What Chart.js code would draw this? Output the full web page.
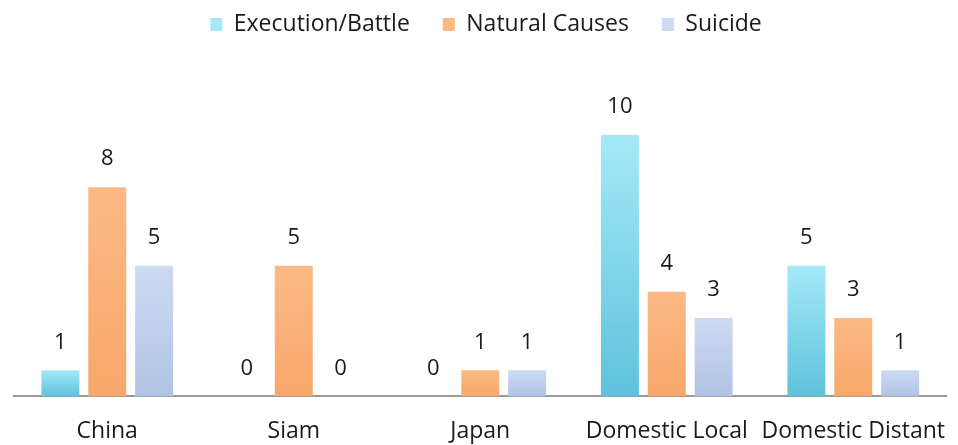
<!DOCTYPE html>
<html>
<head>
<meta charset="utf-8">
<script src="https://cdn.jsdelivr.net/npm/chart.js@4"></script>
<style>
  html, body { margin: 0; padding: 0; background: #fff; }
  #wrap { width: 958px; height: 445px; }
</style>
</head>
<body>
<div id="wrap"><canvas id="myChart"></canvas></div>
<script>
// chart data
const categories = ['China', 'Siam', 'Japan', 'Domestic Local', 'Domestic Distant'];
const executionBattle = [1, 0, 0, 10, 5];
const naturalCauses = [8, 5, 1, 4, 3];
const suicide = [5, 0, 1, 3, 1];

const fontFam = "'Open Sans', sans-serif";

// vertical gradient on each bar (light at the top)
function grad(top, bottom) {
    return function (ctx) {
        const chart = ctx.chart;
        if (!chart.chartArea || ctx.type !== 'data') return bottom;
        const ys = chart.scales.y;
        const y0 = ys.getPixelForValue(0);
        let y1 = ys.getPixelForValue(ctx.raw);
        if (y1 >= y0) y1 = y0 - 1;
        const g = chart.ctx.createLinearGradient(0, y1, 0, y0);
        g.addColorStop(0, top);
        g.addColorStop(1, bottom);
        return g;
    };
}

// draw the value over each bar
const valueLabels = {
    id: 'valueLabels',
    afterDatasetsDraw(chart) {
        const c = chart.ctx;
        c.save();
        c.font = "22px " + fontFam;
        c.fillStyle = '#1a1a1a';
        c.textAlign = 'center';
        c.textBaseline = 'middle';
        chart.data.datasets.forEach((ds, i) => {
            chart.getDatasetMeta(i).data.forEach((bar, j) => {
                c.fillText(ds.data[j], bar.x, bar.y - 28);
            });
        });
        c.restore();
    }
};

var mychart = document.getElementById('myChart').getContext('2d');
var chart = new Chart(mychart, {
    type: 'bar',
    data: {
        labels: categories,
        datasets: [
            {
                label: 'Execution/Battle',
                data: executionBattle,
                backgroundColor: grad('#a4e9f8', '#5fc2dc')
            },
            {
                label: 'Natural Causes',
                data: naturalCauses,
                backgroundColor: grad('#fcb985', '#f7a76b')
            },
            {
                label: 'Suicide',
                data: suicide,
                backgroundColor: grad('#cddaf2', '#b1c3e5')
            }
        ]
    },
    options: {
        responsive: true,
        maintainAspectRatio: false,
        animation: false,
        categoryPercentage: 0.754,
        barPercentage: 0.81,
        layout: { padding: { left: 14, right: 0, top: -20, bottom: -13 } },
        plugins: {
            tooltip: { enabled: false },
            legend: {
                position: 'top',
                labels: {
                    boxWidth: 12,
                    boxHeight: 13,
                    padding: 33,
                    color: '#1a1a1a',
                    font: { family: fontFam, size: 23 }
                }
            }
        },
        scales: {
            x: {
                grid: { display: false },
                border: { display: true, color: '#9a9a9a', width: 2 },
                ticks: {
                    color: '#1a1a1a',
                    padding: 13,
                    maxRotation: 0,
                    minRotation: 0,
                    autoSkip: false,
                    font: { family: fontFam, size: 23 }
                }
            },
            y: {
                display: false,
                min: 0,
                max: 13.4
            }
        }
    },
    plugins: [valueLabels]
});
</script>
</body>
</html>
